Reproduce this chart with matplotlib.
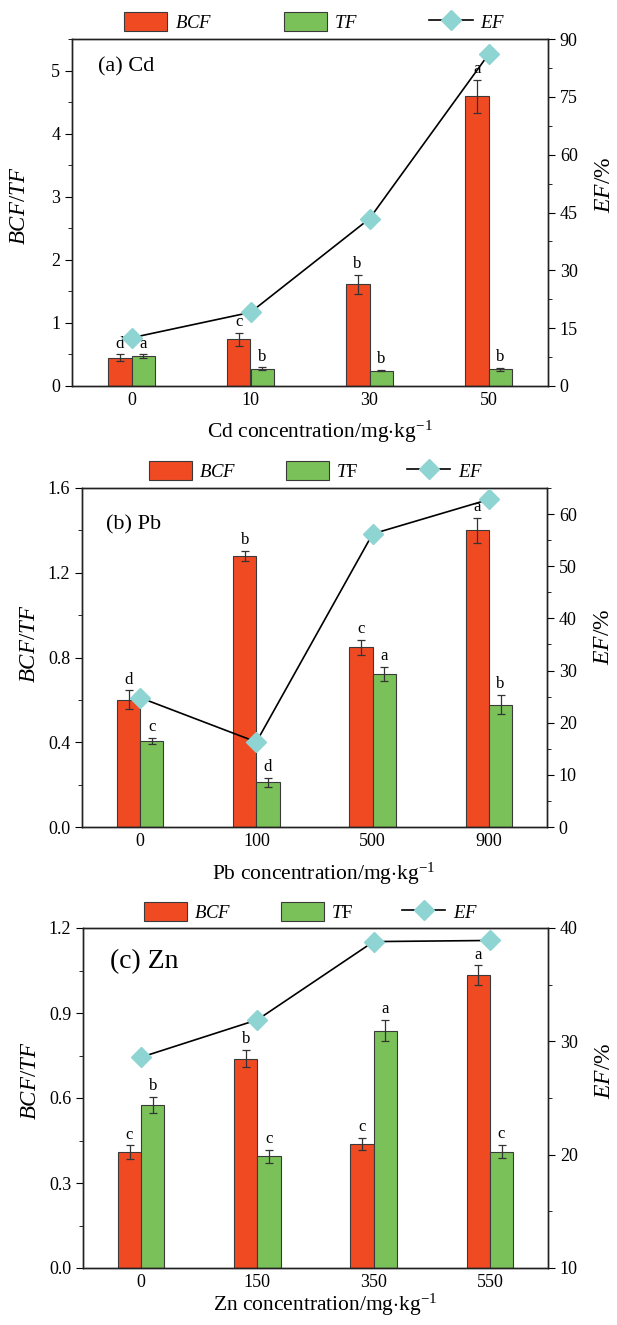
import matplotlib
matplotlib.use('Agg')
import matplotlib.pyplot as plt
import numpy as np
from matplotlib.patches import Patch
from matplotlib.lines import Line2D
from matplotlib.ticker import MultipleLocator

plt.rcParams['font.family'] = ['Liberation Serif', 'DejaVu Serif']
plt.rcParams['mathtext.fontset'] = 'custom'
plt.rcParams['mathtext.rm'] = 'Liberation Serif'
plt.rcParams['mathtext.it'] = 'Liberation Serif:italic'

# (a) Cd
cd_conc = ['0', '10', '30', '50']
cd_bcf = [0.45, 0.74, 1.61, 4.59]
cd_bcf_err = [0.05, 0.10, 0.15, 0.26]
cd_tf = [0.47, 0.275, 0.24, 0.265]
cd_tf_err = [0.03, 0.02, 0.01, 0.02]
cd_ef = [12.5, 19.1, 43.4, 86.0]
cd_bcf_sig = ['d', 'c', 'b', 'a']
cd_tf_sig = ['a', 'b', 'b', 'b']

# (b) Pb
pb_conc = ['0', '100', '500', '900']
pb_bcf = [0.60, 1.28, 0.848, 1.40]
pb_bcf_err = [0.045, 0.025, 0.035, 0.06]
pb_tf = [0.406, 0.211, 0.722, 0.577]
pb_tf_err = [0.014, 0.02, 0.035, 0.045]
pb_ef = [24.8, 16.3, 56.2, 62.8]
pb_bcf_sig = ['d', 'b', 'c', 'a']
pb_tf_sig = ['c', 'd', 'a', 'b']

# (c) Zn
zn_conc = ['0', '150', '350', '550']
zn_bcf = [0.408, 0.739, 0.438, 1.033]
zn_bcf_err = [0.025, 0.03, 0.02, 0.035]
zn_tf = [0.575, 0.394, 0.838, 0.411]
zn_tf_err = [0.028, 0.024, 0.037, 0.024]
zn_ef = [28.6, 31.9, 38.8, 38.9]
zn_bcf_sig = ['c', 'b', 'c', 'a']
zn_tf_sig = ['b', 'c', 'a', 'c']

RED = '#F04A23'
GREEN = '#7BC159'
CYAN = '#8ED4D3'
EDGE = '#3a3a3a'


def panel(ax, conc, bcf, bcf_err, tf, tf_err, ef, bcf_sig, tf_sig,
          ylim, ymaj, ymin, ylim2, ymaj2, ymin2, title, title_pos, title_size,
          element, tf_label, leg_x, leg_y, colsp, ylab_y, ylab2_y, xlab_y, ppx):
    x = np.arange(len(conc))
    w = 0.2
    ax.bar(x - w / 2, bcf, w, color=RED, edgecolor=EDGE, linewidth=0.8, zorder=2)
    ax.bar(x + w / 2, tf, w, color=GREEN, edgecolor=EDGE, linewidth=0.8, zorder=2)
    ax.errorbar(x - w / 2, bcf, yerr=bcf_err, fmt='none', ecolor='#333333',
                elinewidth=0.9, capsize=3, capthick=0.9, zorder=3)
    ax.errorbar(x + w / 2, tf, yerr=tf_err, fmt='none', ecolor='#333333',
                elinewidth=0.9, capsize=3, capthick=0.9, zorder=3)
    for i in range(len(conc)):
        ax.annotate(bcf_sig[i], (x[i] - w / 2, bcf[i] + bcf_err[i]), xytext=(0, 2),
                    textcoords='offset points', ha='center', va='bottom', fontsize=12)
        ax.annotate(tf_sig[i], (x[i] + w / 2, tf[i] + tf_err[i]), xytext=(0, 2),
                    textcoords='offset points', ha='center', va='bottom', fontsize=12)
    ax.set_xlim(-0.5, len(conc) - 0.5)
    ax.set_ylim(*ylim)
    ax.set_xticks(x)
    ax.set_xticklabels(conc)
    ax.yaxis.set_major_locator(MultipleLocator(ymaj))
    ax.yaxis.set_minor_locator(MultipleLocator(ymin))
    if ymaj < 1:
        ax.yaxis.set_major_formatter(lambda v, p: '%.1f' % v)
    ax.tick_params(axis='x', length=0, pad=4, labelsize=13)
    ax.tick_params(axis='y', which='major', direction='out', length=5, labelsize=13)
    ax.tick_params(axis='y', which='minor', direction='out', length=3)
    ax.set_ylabel(r'$\mathit{BCF/TF}$', fontsize=16.5)
    ax.yaxis.set_label_coords(-42 / ppx, ylab_y)
    ax.set_xlabel(element + r' concentration/mg$\cdot$kg$^{-1}$', fontsize=15.5)
    ax.xaxis.set_label_coords(0.52, xlab_y)
    ax.text(title_pos[0], title_pos[1], title, transform=ax.transAxes,
            fontsize=title_size, ha='left', va='center')

    ax2 = ax.twinx()
    ax2.plot(x, ef, color='black', linewidth=1.2, marker='D', markersize=10,
             markerfacecolor=CYAN, markeredgecolor=CYAN, zorder=4)
    ax2.set_ylim(*ylim2)
    ax2.yaxis.set_major_locator(MultipleLocator(ymaj2))
    ax2.yaxis.set_minor_locator(MultipleLocator(ymin2))
    ax2.tick_params(axis='y', which='major', direction='out', length=5, labelsize=13)
    ax2.tick_params(axis='y', which='minor', direction='out', length=3)
    ax2.set_ylabel(r'$\mathit{EF}$/%', fontsize=17)
    ax2.yaxis.set_label_coords(1 + 46 / ppx, ylab2_y)
    for a in (ax, ax2):
        for s in a.spines.values():
            s.set_color('#222222')
            s.set_linewidth(1.0)

    handles = [Patch(facecolor=RED, edgecolor=EDGE, linewidth=0.8),
               Patch(facecolor=GREEN, edgecolor=EDGE, linewidth=0.8),
               Line2D([], [], color='black', linewidth=1.2, marker='D', markersize=10,
                      markerfacecolor=CYAN, markeredgecolor=CYAN)]
    labels = [r'$\mathit{BCF}$', tf_label, r'$\mathit{EF}$']
    ax.legend(handles, labels, loc='center', bbox_to_anchor=(leg_x, leg_y), ncol=3,
              frameon=False, fontsize=13.5, handlelength=2.3, handleheight=1.2,
              columnspacing=colsp, handletextpad=0.4, borderaxespad=0)
    return ax2


fig = plt.figure(figsize=(6.17, 13.25), dpi=100)
W, H = 617, 1325


def box(l, r, t, b):
    return [l / W, (H - b) / H, (r - l) / W, (b - t) / H]


ax_a = fig.add_axes(box(72, 548, 39, 386))
panel(ax_a, cd_conc, cd_bcf, cd_bcf_err, cd_tf, cd_tf_err, cd_ef, cd_bcf_sig, cd_tf_sig,
      (0, 5.5), 1, 0.5, (0, 90), 15, 7.5, '(a) Cd', (0.055, 0.92), 16,
      'Cd', r'$\mathit{TF}$', 0.51, 1 + 17 / 347, 3.8,
      0.52, 0.58, -0.095, 476)

ax_b = fig.add_axes(box(82, 547, 488, 827))
panel(ax_b, pb_conc, pb_bcf, pb_bcf_err, pb_tf, pb_tf_err, pb_ef, pb_bcf_sig, pb_tf_sig,
      (0, 1.6), 0.4, 0.2, (0, 65), 10, 5, '(b) Pb', (0.052, 0.89), 16,
      'Pb', r'$\mathit{T}$F', 0.503, 1 + 17 / 339, 2.6,
      0.54, 0.56, -0.1, 465)

ax_c = fig.add_axes(box(83, 548, 928, 1268))
panel(ax_c, zn_conc, zn_bcf, zn_bcf_err, zn_tf, zn_tf_err, zn_ef, zn_bcf_sig, zn_tf_sig,
      (0, 1.2), 0.3, 0.15, (10, 40), 10, 5, '(c) Zn', (0.058, 0.9), 20,
      'Zn', r'$\mathit{T}$F', 0.49, 1 + 16 / 340, 2.6,
      0.55, 0.58, -0.07, 465)

fig.savefig('out.png', dpi=100)
